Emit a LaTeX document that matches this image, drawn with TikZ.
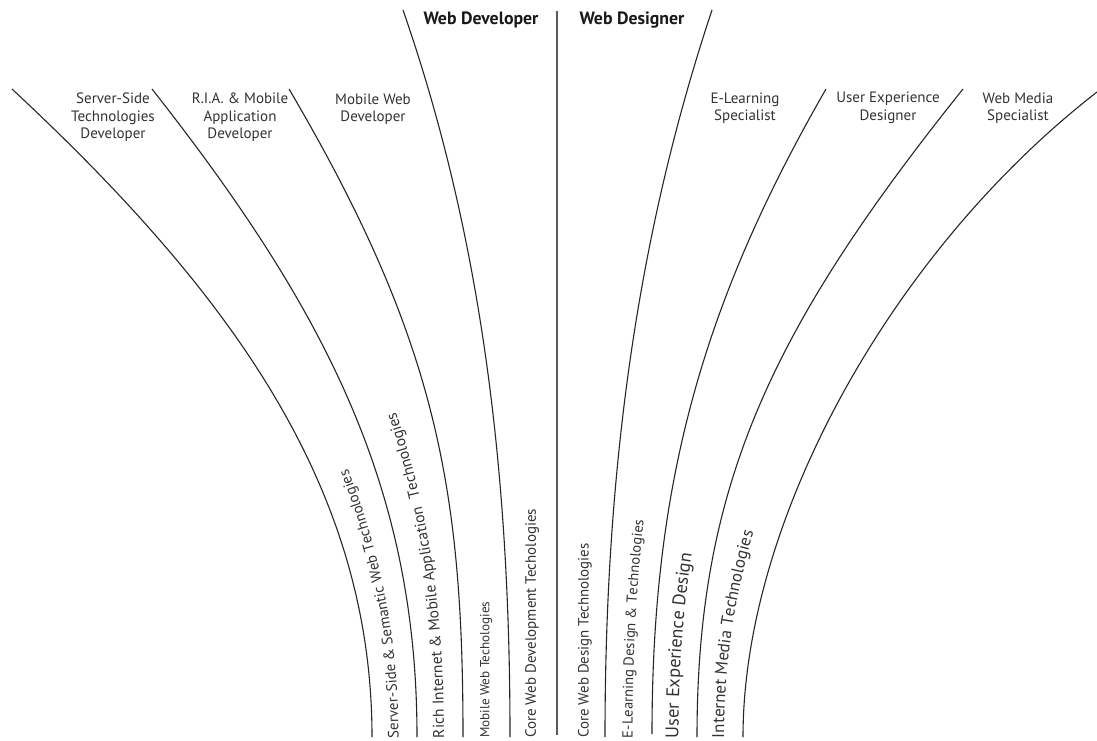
\documentclass[tikz,border=0pt]{standalone}
\usepackage{fontspec}
\setmainfont{PT Sans}
\usetikzlibrary{decorations.text}
\newcommand\techfont[1]{\fontsize{#1}{#1}\selectfont}
\begin{document}
\begin{tikzpicture}[x=1pt,y=-1pt,
  track/.style={line width=1.1pt, draw=black!85},
  divider/.style={line width=2.2pt, draw=black!65},
  role/.style={align=center, text=black!80, font=\fontsize{15}{17.5}\selectfont, inner sep=0pt},
  head/.style={text=black!90, font=\bfseries\fontsize{17.8}{20}\selectfont, inner sep=0pt, anchor=base},
  tech/.style={text=black!80, inner sep=0pt, rotate=90, anchor=west},
  along/.style={decorate, decoration={text along path, text color=black!80, text={#1}}}]

% canvas
\fill[white] (0,0) rectangle (1097,740);
\useasboundingbox (0,0) rectangle (1097,740);

% developer branches
\draw[track] (12,89)   .. controls (231,293) and (372,487) .. (372,737);
\draw[track] (152,89)  .. controls (325,309) and (417,487) .. (417,737);
\draw[track] (289,89)  .. controls (436,339) and (463,487) .. (463,737);
\draw[track] (403,10)  .. controls (485,246) and (510,487) .. (510,737);

% central divider
\coordinate (topmid) at (557,11);
\coordinate (botmid) at (557,735);
\draw[divider] (topmid) -- (botmid);

% designer branches
\draw[track] (712,10)  .. controls (633,247) and (605,487) .. (605,737);
\draw[track] (826,89)  .. controls (701,306) and (652,487) .. (652,734);
\draw[track] (963,89)  .. controls (770,330) and (697,487) .. (697,737);
\draw[track] (1097,92) .. controls (892,251) and (743,520) .. (743,737);

% headings
\node[head] (wdev) at (481,24) {Web Developer};
\node[head] (wdes) at (632,24) {Web Designer};

% career roles
\node[role] (ssd) at (113,117.3) {Server-Side\\Technologies\\Developer};
\node[role] (ria) at (240,117.3) {R.I.A. \& Mobile\\Application\\Developer};
\node[role] (mwd) at (373,109) {Mobile Web\\Developer};
\node[role] (els) at (745,108) {E-Learning\\Specialist};
\node[role] (uxd) at (888,108) {User Experience\\Designer};
\node[role] (wms) at (1018,108) {Web Media\\Specialist};

% technology streams, running up between the branches
\path[along={|\techfont{15}|Server-Side {\&} Semantic Web Technologies}]
  (398.5,738) .. controls (398.5,487) and (282,301) .. (86,89);
\path[along={|\techfont{15.6}|Rich Internet {\&} Mobile Application{\hspace*{4pt}} Technologies}]
  (444,738) .. controls (444,487) and (384.5,324) .. (224.5,89);
\node[tech, font=\techfont{13.2}] (mwt) at (486,738) {Mobile Web Techologies};
\node[tech, font=\techfont{15}] (cwdt) at (532,738) {Core Web Development Techologies};
\node[tech, font=\techfont{14.9}] (cwdes) at (585,738) {Core Web Design Technologies};
\path[along={|\techfont{14.6}|E-Learning Design {\&} Technologies}]
  (632.5,738) .. controls (632.5,487) and (671,276.5) .. (773,49.5);
\path[along={|\techfont{18.3}|User Experience Design}]
  (678.5,738) .. controls (678.5,487) and (739.5,318) .. (898.5,89);
\path[along={|\techfont{17}|Internet Media Technologies}]
  (724,738) .. controls (724,503.5) and (835,290.5) .. (1034,90.5);
\end{tikzpicture}
\end{document}
